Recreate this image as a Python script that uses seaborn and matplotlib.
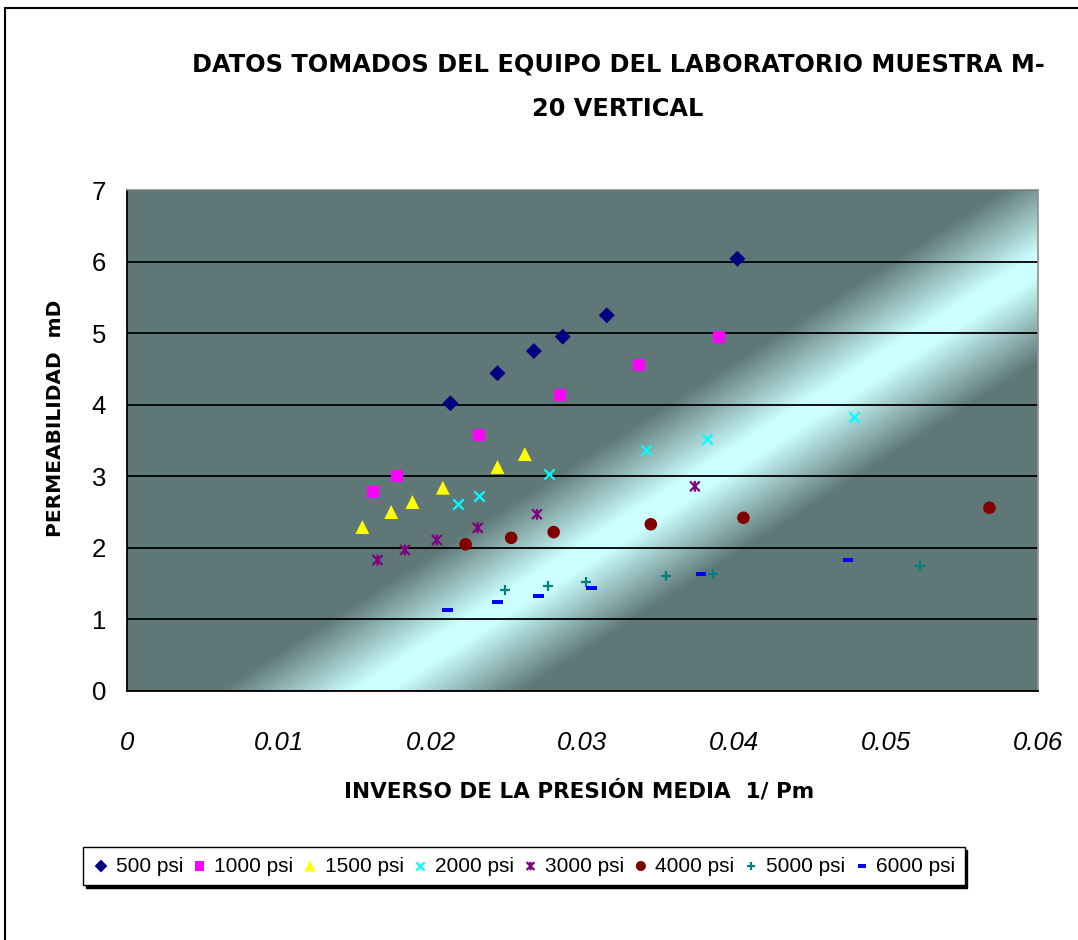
import numpy as np
import matplotlib
matplotlib.use("Agg")
import matplotlib.pyplot as plt
import seaborn as sns
from matplotlib.path import Path
from matplotlib.lines import Line2D

# ---------------- data ----------------
series_labels = ["500 psi", "1000 psi", "1500 psi", "2000 psi",
                 "3000 psi", "4000 psi", "5000 psi", "6000 psi"]
x_500 = [0.0213, 0.0244, 0.0268, 0.0287, 0.0316, 0.0402]
y_500 = [4.02, 4.44, 4.75, 4.95, 5.25, 6.04]
x_1000 = [0.0162, 0.0178, 0.0232, 0.0285, 0.0337, 0.0390]
y_1000 = [2.78, 3.00, 3.58, 4.14, 4.56, 4.95]
x_1500 = [0.0155, 0.0174, 0.0188, 0.0208, 0.0244, 0.0262]
y_1500 = [2.29, 2.50, 2.64, 2.84, 3.13, 3.31]
x_2000 = [0.0218, 0.0232, 0.0278, 0.0342, 0.0382, 0.0479]
y_2000 = [2.61, 2.73, 3.03, 3.37, 3.52, 3.83]
x_3000 = [0.0165, 0.0183, 0.0204, 0.0231, 0.0270, 0.0374]
y_3000 = [1.83, 1.97, 2.11, 2.28, 2.47, 2.86]
x_4000 = [0.0223, 0.0253, 0.0281, 0.0345, 0.0406, 0.0568]
y_4000 = [2.05, 2.14, 2.22, 2.33, 2.42, 2.56]
x_5000 = [0.0249, 0.0277, 0.0302, 0.0355, 0.0386, 0.0522]
y_5000 = [1.41, 1.47, 1.52, 1.61, 1.64, 1.75]
x_6000 = [0.0211, 0.0244, 0.0271, 0.0306, 0.0378, 0.0475]
y_6000 = [1.13, 1.24, 1.33, 1.44, 1.64, 1.83]

x_ticks = [0, 0.01, 0.02, 0.03, 0.04, 0.05, 0.06]
x_tick_labels = ["0", "0.01", "0.02", "0.03", "0.04", "0.05", "0.06"]
y_ticks = [0, 1, 2, 3, 4, 5, 6, 7]
y_tick_labels = ["0", "1", "2", "3", "4", "5", "6", "7"]

title_text = "DATOS TOMADOS DEL EQUIPO DEL LABORATORIO MUESTRA M-\n20 VERTICAL"
x_label = "INVERSO DE LA PRESIÓN MEDIA  1/ Pm"
y_label = "PERMEABILIDAD  mD"

# ---------------- style ----------------
sns.set_style("white")
plt.rcParams["font.family"] = ["Liberation Sans", "DejaVu Sans"]
for key in ["text.color", "axes.labelcolor", "xtick.color", "ytick.color"]:
    plt.rcParams[key] = "black"

W, H = 1078, 940
fig = plt.figure(figsize=(W / 100, H / 100), dpi=100)
fig.patch.set_facecolor("white")
L, R, T, B = 127, 1038, 190, 691
ax = fig.add_axes([L / W, 1 - B / H, (R - L) / W, (B - T) / H])

# gradient background (diagonal light band)
pw, ph = R - L, B - T
X, Y = np.meshgrid(np.arange(pw) + 0.5, np.arange(ph) + 0.5)
nx, ny = -0.5379, 0.8435
d = nx * (X - 243) + ny * Y
t = np.clip((np.abs(d) - 10) / 72.0, 0, 1)
dark = np.array([95, 119, 119]) / 255.0
light = np.array([204, 255, 255]) / 255.0
img = light[None, None, :] * (1 - t[..., None]) + dark[None, None, :] * t[..., None]
ax.imshow(img, extent=[0, 0.06, 0, 7], origin="lower", aspect="auto",
          zorder=0, interpolation="bilinear")

# markers
asterisk = Path([(-1, -1), (1, 1), (-1, 1), (1, -1), (0, -1.1), (0, 1.1)],
                [Path.MOVETO, Path.LINETO, Path.MOVETO, Path.LINETO,
                 Path.MOVETO, Path.LINETO])
dash = [(-1, -0.38), (1, -0.38), (1, 0.38), (-1, 0.38)]

xs = [x_500, x_1000, x_1500, x_2000, x_3000, x_4000, x_5000, x_6000]
ys = [y_500, y_1000, y_1500, y_2000, y_3000, y_4000, y_5000, y_6000]
colors = ["#000080", "#FF00FF", "#FFFF00", "#00FFFF",
          "#800080", "#800000", "#008080", "#0000FF"]
markers = ["D", "s", "^", "x", asterisk, "o", "+", dash]
sizes = [66, 76, 100, 55, 60, 82, 60, 55]
kinds = ["fill", "fill", "fill", "line", "path", "fill", "line", "fill"]

for xv, yv, c, m, s, k, lab in zip(xs, ys, colors, markers, sizes, kinds, series_labels):
    if k == "fill":
        sns.scatterplot(x=xv, y=yv, ax=ax, marker=m, s=s, color=c,
                        edgecolor="none", linewidth=0, label=lab, zorder=5)
    elif k == "line":
        sns.scatterplot(x=xv, y=yv, ax=ax, marker=m, s=s, color=c,
                        linewidth=1.6, label=lab, zorder=5)
    else:
        sns.scatterplot(x=xv, y=yv, ax=ax, marker=m, s=s, color=c,
                        facecolor="none", edgecolor=c, linewidth=1.6,
                        label=lab, zorder=5)

ax.set_xlim(0, 0.06)
ax.set_ylim(0, 7)
ax.set_xticks(x_ticks)
ax.set_xticklabels(x_tick_labels, fontsize=18.5, style="italic")
ax.set_yticks(y_ticks)
ax.set_yticklabels(y_tick_labels, fontsize=18.5)
ax.tick_params(axis="both", direction="out", length=7, width=1.2, color="black",
               labelcolor="black")
ax.tick_params(axis="x", pad=22)
ax.tick_params(axis="y", pad=8)

ax.yaxis.grid(True, color="black", linewidth=1.3)
ax.xaxis.grid(False)
ax.set_axisbelow(True)

for side in ["left", "bottom"]:
    ax.spines[side].set_color("black")
    ax.spines[side].set_linewidth(1.3)
for side in ["top", "right"]:
    ax.spines[side].set_color("#909090")
    ax.spines[side].set_linewidth(1.2)

ax.set_xlabel(x_label, family="DejaVu Sans", weight="bold", fontsize=15.5, color="black")
ax.set_ylabel(y_label, family="DejaVu Sans", weight="bold", fontsize=14.5, color="black")
ax.xaxis.set_label_coords(0.496, -0.1996)
ax.xaxis.label.set_va("center")
ax.yaxis.set_label_coords(-0.079, 0.545)
ax.yaxis.label.set_va("center")

fig.text(618 / W, 1 - 86.5 / H, title_text, ha="center", va="center",
         family="DejaVu Sans", weight="bold", fontsize=17.3, linespacing=2.1,
         color="black")

leg = ax.legend(loc="center", bbox_to_anchor=(524 / W, 1 - 866 / H),
                bbox_transform=fig.transFigure, ncol=8, frameon=True,
                fancybox=False, edgecolor="black", framealpha=1,
                prop={"family": "Liberation Sans", "size": 15},
                markerscale=0.8, handlelength=0.8, handletextpad=0.3,
                columnspacing=0.4, borderpad=0.45,
                shadow={"color": "black", "alpha": 1})
leg.get_frame().set_linewidth(1.0)
for txt in leg.get_texts():
    txt.set_color("black")

# outer chart border (left and top)
fig.add_artist(Line2D([5 / W, 5 / W], [0, 1 - 8 / H], transform=fig.transFigure,
                      color="black", linewidth=1.5))
fig.add_artist(Line2D([5 / W, 1], [1 - 8 / H, 1 - 8 / H], transform=fig.transFigure,
                      color="black", linewidth=1.5))

fig.savefig("out.png", dpi=100)
